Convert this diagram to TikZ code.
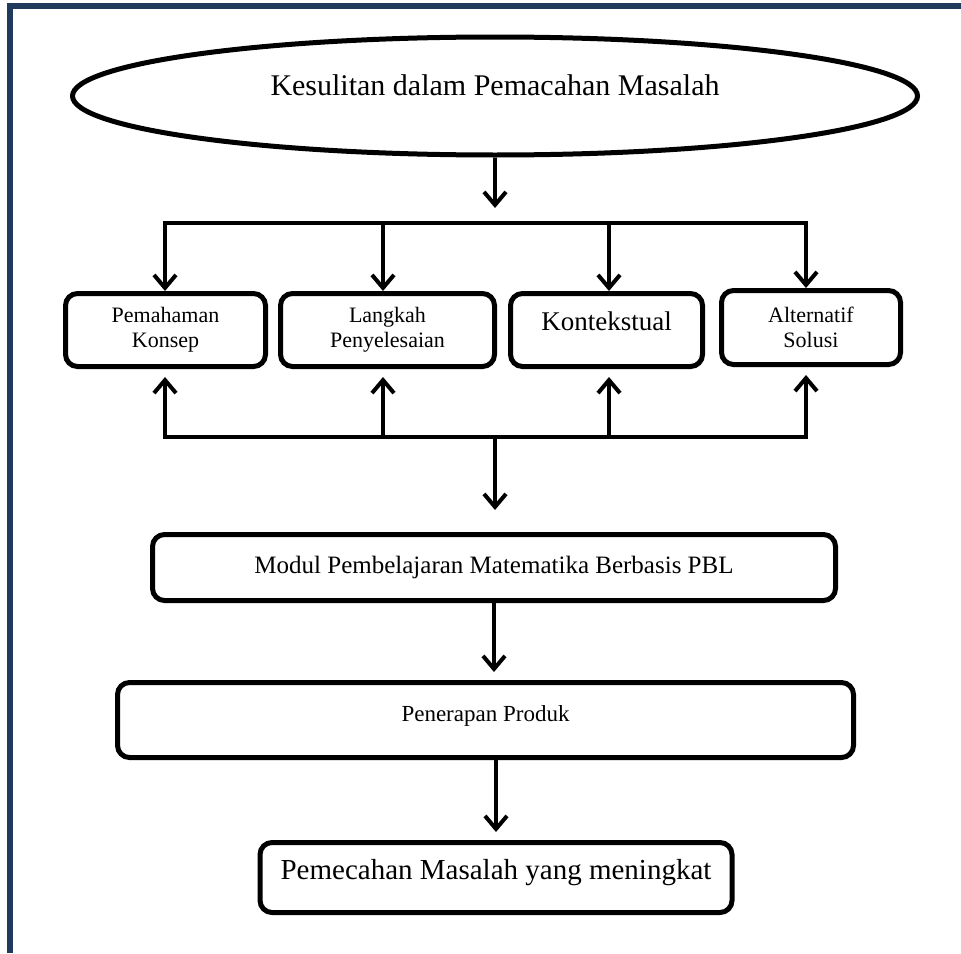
\documentclass[tikz,border=0pt]{standalone}
\usepackage{fontspec}
\setmainfont{Liberation Serif}
\usetikzlibrary{shapes.geometric,arrows.meta}
\definecolor{frameblue}{HTML}{1F3A5A}

\begin{document}
\begin{tikzpicture}[
		x=1pt, y=-1pt,
		box/.style = {shape=rectangle,
			draw, line width=5pt, rounded corners=12pt,
			align=center, inner sep=0pt},
		kecil/.style = {font=\fontsize{22}{25}\selectfont},
		flow/.style = {line width=4pt, -{Straight Barb[length=13pt,width=22pt]}},
		bus/.style = {line width=4pt, line cap=rect}]
		\useasboundingbox (0,0) rectangle (961,953);
		\fill[frameblue] (7,3) rectangle (961,9);
		\fill[frameblue] (7,3) rectangle (13,953);
		\node[draw, ellipse, line width=5pt, inner sep=0pt,
			minimum width=845pt, minimum height=118pt, text depth=22pt,
			font=\fontsize{30}{36}\selectfont] (masalah) at (495,96)
			{Kesulitan dalam Pemacahan Masalah};
		\node[box, kecil, minimum width=200pt, minimum height=73pt] (konsep) at (165.5,330)
			{Pemahaman\\Konsep};
		\node[box, kecil, minimum width=214pt, minimum height=73pt] (langkah) at (387.5,330)
			{Langkah\\Penyelesaian};
		\node[box, minimum width=192pt, minimum height=73pt, text depth=18pt,
			font=\fontsize{27}{30}\selectfont] (kontekstual) at (606.5,330)
			{Kontekstual};
		\node[box, kecil, minimum width=179pt, minimum height=74pt] (alternatif) at (811,327.5)
			{Alternatif\\Solusi};
		\node[box, minimum width=683pt, minimum height=66pt,
			font=\fontsize{25}{30}\selectfont] (modul) at (494,567.5)
			{Modul Pembelajaran Matematika Berbasis PBL};
		\node[box, minimum width=736pt, minimum height=75pt, text depth=12pt,
			font=\fontsize{23}{28}\selectfont] (penerapan) at (485.5,720)
			{Penerapan Produk};
		\node[box, minimum width=472pt, minimum height=70pt, text depth=17pt,
			font=\fontsize{29}{34}\selectfont] (meningkat) at (496,877.5)
			{Pemecahan Masalah yang meningkat};
		\coordinate (atas) at (495,208);
		\coordinate (t1) at (165,223);
		\coordinate (t2) at (383,223);
		\coordinate (t3) at (609,223);
		\coordinate (t4) at (806,223);
		\coordinate (u1) at (165,437);
		\coordinate (u2) at (383,437);
		\coordinate (u3) at (609,437);
		\coordinate (u4) at (806,437);
		\coordinate (tengah) at (495,437);
		\coordinate (bawah) at (495,510);
		\draw[flow] (masalah.south) -- (atas);
		\draw[bus] (t1) -- (t4);
		\draw[bus] (u1) -- (u4);
		\foreach \t/\u/\b in {t1/u1/konsep, t2/u2/langkah, t3/u3/kontekstual, t4/u4/alternatif}
		{
			\draw[flow] (\t) -- (\t |- \b.north);
			\draw[flow, shorten >=8pt] (\u) -- (\u |- \b.south);
		}
		\draw[flow] (tengah) -- (bawah);
		\draw[flow, shorten >=8pt] (modul.south) -- (modul.south |- penerapan.north);
		\draw[flow, shorten >=8pt] (meningkat.north |- penerapan.south) -- (meningkat.north);
\end{tikzpicture}
\end{document}
